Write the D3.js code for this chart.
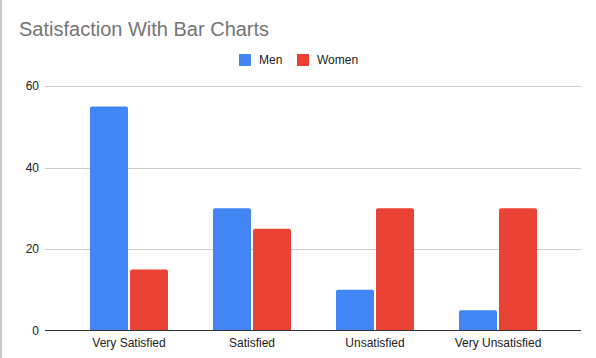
<!DOCTYPE html>
<html><head><meta charset="utf-8">
<script src="https://cdn.jsdelivr.net/npm/d3@7"></script>
<style>body{margin:0;background:#fff}svg{display:block;font-family:"Liberation Sans",Arial,sans-serif}</style>
</head><body>
<svg id="c" width="596" height="358"></svg>
<script>
const categories = ["Very Satisfied", "Satisfied", "Unsatisfied", "Very Unsatisfied"];
const seriesNames = ["Men", "Women"];
const men = [55, 30, 10, 5];
const women = [15, 25, 30, 30];
const yTicks = [0, 20, 40, 60];
const colors = ["#4285F4", "#EA4335"];
const title = "Satisfaction With Bar Charts";

const svg = d3.select("#c");
svg.append("rect").attr("x",0).attr("y",0).attr("width",596).attr("height",358).attr("fill","#fff");
svg.append("line").attr("x1",1).attr("x2",1).attr("y1",0).attr("y2",358).attr("stroke","#c8c8c8").attr("stroke-width",2);

const gridL = 45, gridR = 581;
const y = d3.scaleLinear().domain([0, 60]).range([330.5, 86]);
const x = d3.scaleBand().domain(categories).range([67.5, 559.5]).paddingInner(0).paddingOuter(0);
const barW = 38, gap = 2;

// gridlines
svg.append("g").selectAll("line").data(yTicks.filter(d => d !== 0)).join("line")
  .attr("x1", gridL).attr("x2", gridR)
  .attr("y1", d => Math.round(y(d)) + 0.5).attr("y2", d => Math.round(y(d)) + 0.5)
  .attr("stroke", "#cccccc").attr("stroke-width", 1);

// y labels
svg.append("g").selectAll("text").data(yTicks).join("text")
  .attr("x", 39).attr("y", d => y(d)).attr("dy", "0.35em")
  .attr("text-anchor", "end").attr("font-size", 12).attr("fill", "#222")
  .text(d => d);

// bars
const series = [men, women];
function topRounded(x0, y0, w, h, r) {
  r = Math.min(r, h, w/2);
  return `M${x0},${y0+h}V${y0+r}Q${x0},${y0} ${x0+r},${y0}H${x0+w-r}Q${x0+w},${y0} ${x0+w},${y0+r}V${y0+h}Z`;
}
series.forEach((vals, si) => {
  svg.append("g").selectAll("path").data(vals).join("path")
    .attr("fill", colors[si])
    .attr("d", (v, i) => {
      const cx = x(categories[i]) + x.bandwidth()/2;
      const x0 = si === 0 ? cx - gap/2 - barW : cx + gap/2;
      const y0 = y(v);
      return topRounded(x0, y0, barW, y(0) - y0, 2);
    });
});

// baseline
svg.append("line").attr("x1", gridL).attr("x2", gridR).attr("y1", 330.5).attr("y2", 330.5)
  .attr("stroke", "#333").attr("stroke-width", 1);

// x labels
svg.append("g").selectAll("text").data(categories).join("text")
  .attr("x", d => x(d) + x.bandwidth()/2).attr("y", 347)
  .attr("text-anchor", "middle").attr("font-size", 12).attr("fill", "#222")
  .text(d => d);

// title
svg.append("text").attr("x", 19).attr("y", 36).attr("font-size", 20).attr("fill", "#757575").text(title);

// legend
const legX = [239, 297];
seriesNames.forEach((n, i) => {
  svg.append("rect").attr("x", legX[i]).attr("y", 54).attr("width", 12).attr("height", 12).attr("fill", colors[i]);
  svg.append("text").attr("x", legX[i] + 20).attr("y", 60).attr("dy", "0.35em")
    .attr("font-size", 12).attr("fill", "#222").text(n);
});
</script>
</body></html>
